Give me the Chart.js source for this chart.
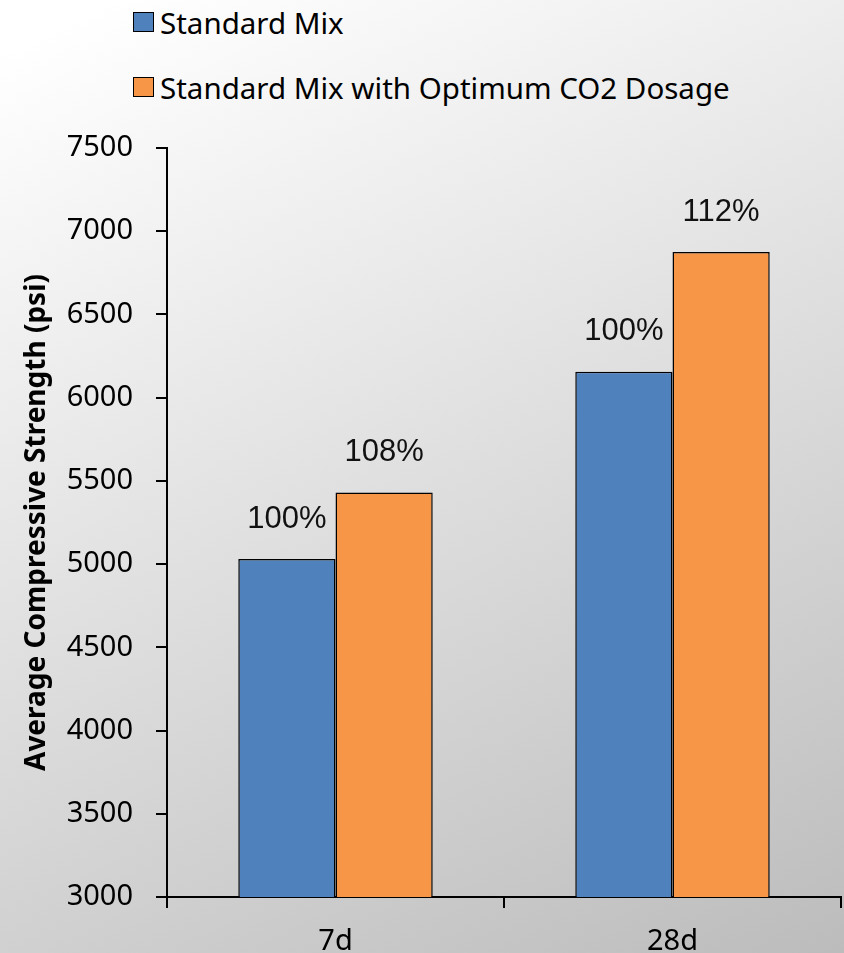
<!DOCTYPE html>
<html>
<head>
<meta charset="utf-8">
<title>Average Compressive Strength</title>
<script src="https://cdn.jsdelivr.net/npm/chart.js@4.4.1/dist/chart.umd.min.js"></script>
<style>
  html, body { margin: 0; padding: 0; }
  body {
    width: 844px; height: 953px; overflow: hidden; position: relative;
    background: linear-gradient(155deg, #ffffff 4%, #bcbcbc 100%);
  }
  #chart { position: absolute; left: 0; top: 0; }
  #legend { position: absolute; left: 133px; top: 0; font-family: "Noto Sans", sans-serif; font-size: 29.5px; color: #000; }
  .lg-item { position: absolute; left: 0; white-space: nowrap; display: flex; align-items: center; height: 40px; }
  .lg-box { width: 19px; height: 18px; border: 1.5px solid #000; margin-right: 6px; flex: none; }
</style>
</head>
<body>
<div id="legend"></div>
<canvas id="chart" width="844" height="953"></canvas>
<script>
// ── Data ──
const ages = ['7d', '28d'];
const seriesNames = ['Standard Mix', 'Standard Mix with Optimum CO2 Dosage'];
const standardMix = [5030, 6155];
const co2Mix = [5430, 6875];
const standardPct = ['100%', '100%'];
const co2Pct = ['108%', '112%'];
const yTicks = [3000, 3500, 4000, 4500, 5000, 5500, 6000, 6500, 7000, 7500];

const BLUE = '#4F81BD';
const ORANGE = '#F79646';

// percentage labels above each bar
const pctPlugin = {
  id: 'pctLabels',
  afterDatasetsDraw(chart) {
    const ctx = chart.ctx;
    const sets = [standardPct, co2Pct];
    ctx.save();
    ctx.font = '31px "Liberation Sans", Arial, sans-serif';
    ctx.fillStyle = '#111';
    ctx.textAlign = 'center';
    ctx.textBaseline = 'middle';
    chart.data.datasets.forEach((ds, i) => {
      chart.getDatasetMeta(i).data.forEach((bar, j) => {
        ctx.fillText(sets[i][j], bar.x, bar.y - 40);
      });
    });
    ctx.restore();
  }
};

const chart = new Chart(document.getElementById('chart').getContext('2d'), {
  type: 'bar',
  data: {
    labels: ages,
    datasets: [
      { label: seriesNames[0], data: standardMix, backgroundColor: BLUE, borderColor: '#000', borderWidth: 1.5 },
      { label: seriesNames[1], data: co2Mix, backgroundColor: ORANGE, borderColor: '#000', borderWidth: 1.5 }
    ]
  },
  options: {
    responsive: false,
    animation: false,
    layout: { padding: { top: 148, right: 3, left: 0, bottom: 0 } },
    datasets: { bar: { categoryPercentage: 0.577, barPercentage: 1 } },
    plugins: { legend: { display: false }, tooltip: { enabled: false } },
    scales: {
      x: {
        grid: { drawOnChartArea: false, tickLength: 11, color: '#000', lineWidth: 2 },
        border: { color: '#000', width: 2 },
        ticks: { color: '#000', padding: 16, font: { family: 'Noto Sans', size: 29 } },
        afterFit(scale) { scale.height = 56; }
      },
      y: {
        min: 3000, max: 7500,
        afterBuildTicks(scale) { scale.ticks = yTicks.map(v => ({ value: v })); },
        grid: { drawOnChartArea: false, tickLength: 11, color: '#000', lineWidth: 2 },
        border: { color: '#000', width: 2 },
        ticks: {
          color: '#000', padding: 23, font: { family: 'Noto Sans', size: 29 },
          callback: v => String(v)
        },
        title: {
          display: true,
          text: 'Average Compressive Strength (psi)',
          color: '#000',
          font: { family: 'Noto Sans', size: 28, weight: 'bold' },
          padding: { top: 20, bottom: 0 }
        },
        afterFit(scale) { scale.width = 167; }
      }
    }
  },
  plugins: [pctPlugin]
});

// HTML legend built from the chart datasets
const legendEl = document.getElementById('legend');
const legendTops = [2, 67];
chart.data.datasets.forEach((ds, i) => {
  const item = document.createElement('div');
  item.className = 'lg-item';
  item.style.top = legendTops[i] + 'px';
  const box = document.createElement('span');
  box.className = 'lg-box';
  box.style.background = ds.backgroundColor;
  const txt = document.createElement('span');
  txt.textContent = ds.label;
  item.appendChild(box);
  item.appendChild(txt);
  legendEl.appendChild(item);
});
</script>
</body>
</html>
